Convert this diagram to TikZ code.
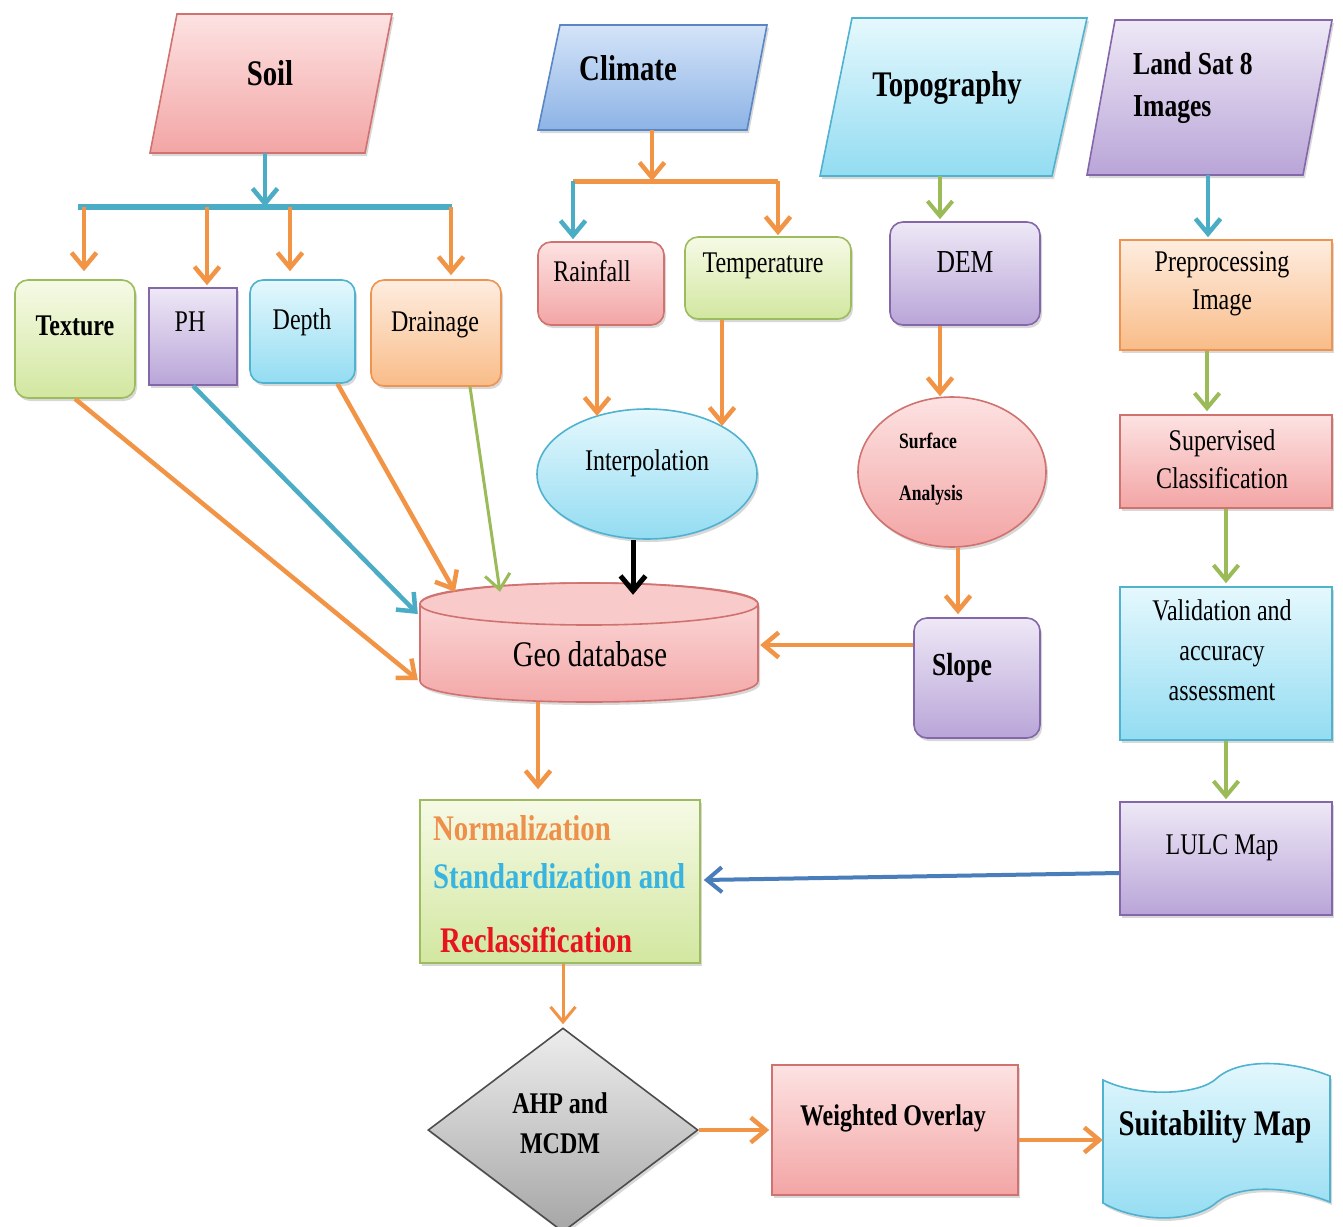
\documentclass[tikz,border=0pt]{standalone}
\usepackage{fontspec}
\setmainfont{Liberation Serif}[FakeStretch=0.8]
\usetikzlibrary{arrows.meta,shapes.geometric,shadows,calc}
\definecolor{pinkT}{HTML}{FDE2E2}\definecolor{pinkB}{HTML}{F3A5A5}\definecolor{pinkD}{HTML}{D0726F}
\definecolor{bluT}{HTML}{D4E4F8}\definecolor{bluB}{HTML}{8DB3E6}\definecolor{bluD}{HTML}{5A86C3}
\definecolor{cyT}{HTML}{E5F8FD}\definecolor{cyB}{HTML}{93DCF2}\definecolor{cyD}{HTML}{4FB2CF}
\definecolor{puT}{HTML}{EEE8F6}\definecolor{puB}{HTML}{B9A5D8}\definecolor{puD}{HTML}{8467A8}
\definecolor{grT}{HTML}{F6FAE6}\definecolor{grB}{HTML}{D2E7A0}\definecolor{grD}{HTML}{9DBC5E}
\definecolor{orT}{HTML}{FEEDE0}\definecolor{orB}{HTML}{F9BC88}\definecolor{orD}{HTML}{EE9350}
\definecolor{gyT}{HTML}{EDEDED}\definecolor{gyB}{HTML}{A6A6A6}\definecolor{gyD}{HTML}{4D4D4D}
\definecolor{orA}{HTML}{F29446}\definecolor{blA}{HTML}{4BACC6}\definecolor{grA}{HTML}{9BBB59}
\definecolor{dkA}{HTML}{4A7EBB}
\definecolor{nO}{HTML}{EE8F4A}\definecolor{nC}{HTML}{38B4E0}\definecolor{nR}{HTML}{E8141E}
\begin{document}
\begin{tikzpicture}[x=1pt,y=-1pt,
  shp/.style={draw, line width=1.6pt, inner sep=0pt, drop shadow={opacity=0.3, shadow xshift=2pt, shadow yshift=-3pt}},
  rbox/.style={shp, rectangle, rounded corners=13pt},
  sbox/.style={shp, rectangle},
  pinkf/.style={top color=pinkT, bottom color=pinkB, draw=pinkD},
  bluef/.style={top color=bluT, bottom color=bluB, draw=bluD},
  cyanf/.style={top color=cyT, bottom color=cyB, draw=cyD},
  purplef/.style={top color=puT, bottom color=puB, draw=puD},
  greenf/.style={top color=grT, bottom color=grB, draw=grD},
  orangef/.style={top color=orT, bottom color=orB, draw=orD},
  grayf/.style={top color=gyT, bottom color=gyB, draw=gyD},
  txt/.style={inner sep=0pt, align=center, text=black},
  f30/.style={txt, font=\fontsize{30}{38}\selectfont},
  f32/.style={txt, font=\fontsize{32}{38}\selectfont},
  f36/.style={txt, font=\fontsize{36}{42}\selectfont},
  b22/.style={txt, font=\fontsize{22}{52}\selectfont\bfseries},
  b30/.style={txt, font=\fontsize{30}{40}\selectfont\bfseries},
  b32/.style={txt, font=\fontsize{32}{42}\selectfont\bfseries},
  b36/.style={txt, font=\fontsize{36}{42}\selectfont\bfseries},
  tipv/.style={-{Straight Barb[length=15pt,width=25pt]}},
  oarr/.style={draw=orA, line width=4.5pt, tipv},
  barr/.style={draw=blA, line width=4.5pt, tipv},
  garr/.style={draw=grA, line width=4pt, tipv},
  karr/.style={draw=black, line width=5pt, tipv},
  darr/.style={draw=dkA, line width=4pt, tipv},
]
\useasboundingbox[fill=white] (0,0) rectangle (1343,1226);

% ---- parallelograms (inputs)
\path[shp, pinkf] (177,14) -- (392,14) -- (365,153) -- (150,153) -- cycle;
\path[shp, bluef] (560,25) -- (767,25) -- (747,130) -- (538,130) -- cycle;
\path[shp, cyanf] (852,18) -- (1087,18) -- (1052,176) -- (820,176) -- cycle;
\path[shp, purplef] (1115,20) -- (1332,20) -- (1303,175) -- (1087,175) -- cycle;
\node[b36] (soilt) at (270,73) {Soil};
\node[b36] (climt) at (628,68) {Climate};
\node[b36] (topot) at (947,88) {Topography};
\node[b32, align=left, anchor=west] (lst) at (1133,88) {Land Sat 8\\Images};
\coordinate (soilout) at (265,153);
\coordinate (climout) at (652,130);
\coordinate (topout) at (940,176);
\coordinate (lsout) at (1208,175);

% ---- soil attributes
\node[rbox, greenf, minimum width=120, minimum height=118] (tex) at (75,339) {};
\node[sbox, purplef, minimum width=88, minimum height=97] (ph) at (193,336.5) {};
\node[rbox, cyanf, minimum width=105, minimum height=103] (dep) at (302.5,331.5) {};
\node[rbox, orangef, minimum width=130, minimum height=106] (dra) at (436,333) {};
\node[b30] (text) at (75,326) {Texture};
\node[f30] (pht) at (190,322) {PH};
\node[f30] (dept) at (302,322) {Depth};
\node[f30] (drat) at (435,325) {Drainage};

% ---- climate
\node[rbox, pinkf, minimum width=126, minimum height=83] (rain) at (601,283.5) {};
\node[rbox, greenf, minimum width=166, minimum height=82] (temp) at (768,278) {};
\node[f30] (raint) at (592,271) {Rainfall};
\node[f30] (tempt) at (763,266) {Temperature};
\node[ellipse, shp, cyanf, minimum width=220, minimum height=130] (interp) at (647,474) {};
\node[f30] (interpt) at (647,463) {Interpolation};

% ---- geo database cylinder
\path[shp, pinkf] (420,604) -- (420,681) .. controls (420,709) and (758,709) .. (758,681) -- (758,604) .. controls (758,576) and (420,576) .. (420,604) -- cycle;
\path[draw=pinkD, line width=1.6pt, fill=pinkT!60!pinkB] (589,604) ellipse [x radius=169, y radius=21];
\node[inner sep=0pt, minimum width=338, minimum height=119] (geo) at (589,642.5) {};
\node[f36] (geot) at (590,654) {Geo database};

% ---- topography
\node[rbox, purplef, minimum width=150, minimum height=103] (dem) at (965,273.5) {};
\node[f32] (demt) at (965,262) {DEM};
\node[ellipse, shp, pinkf, minimum width=188, minimum height=150] (surf) at (952,472) {};
\node[b22, align=left, anchor=west] (surft) at (899,469) {Surface\\Analysis};
\node[rbox, purplef, minimum width=126, minimum height=120] (slope) at (977,678) {};
\node[b32] (slopet) at (962,668) {Slope};

% ---- landsat chain
\node[sbox, orangef, minimum width=212, minimum height=110] (pre) at (1226,295) {};
\node[f30] (pret) at (1222,284) {Preprocessing\\Image};
\node[sbox, pinkf, minimum width=212, minimum height=93] (sup) at (1226,461.5) {};
\node[f30] (supt) at (1222,459) {Supervised\\Classification};
\node[sbox, cyanf, minimum width=212, minimum height=153] (val) at (1226,663.5) {};
\node[f30, font=\fontsize{30}{40}\selectfont] (valt) at (1222,650) {Validation and\\accuracy\\assessment};
\node[sbox, purplef, minimum width=212, minimum height=113] (lulc) at (1226,858.5) {};
\node[f30] (lulct) at (1222,848) {LULC Map};

% ---- normalization
\node[sbox, greenf, minimum width=280, minimum height=163] (norm) at (560,881.5) {};
\node[b36, text=nO, anchor=west] (n1) at (433,828) {Normalization};
\node[b36, text=nC, anchor=west] (n2) at (433,876) {Standardization and};
\node[b36, text=nR, anchor=west] (n3) at (440,940) {Reclassification};

% ---- bottom row
\node[diamond, shp, grayf, minimum width=270, minimum height=204] (ahp) at (563,1130) {};
\node[b30] (ahpt) at (560,1123) {AHP and\\MCDM};
\node[sbox, pinkf, minimum width=246, minimum height=130] (wo) at (895,1130) {};
\node[b30] (wot) at (893,1118) {Weighted Overlay};
\path[shp, cyanf] (1103,1080) .. controls (1140,1098) and (1200,1095) .. (1217,1078) .. controls (1240,1058) and (1290,1060) .. (1330,1076) -- (1330,1202) .. controls (1290,1186) and (1240,1184) .. (1217,1202) .. controls (1195,1222) and (1140,1224) .. (1103,1203) -- cycle;
\node[inner sep=0pt, minimum width=227, minimum height=116] (suitb) at (1216.5,1140) {};
\node[b36] (suitt) at (1215,1127) {Suitability Map};

% ---- connectors: soil
\coordinate (sbarC) at (265,207);
\coordinate (sbarL) at (78,207);
\coordinate (sbarR) at (452,207);
\coordinate (b1) at (84,207);
\coordinate (b2) at (207,207);
\coordinate (b3) at (290,207);
\coordinate (b4) at (451,207);
\draw[draw=blA, line width=6pt] (sbarL) -- (sbarR);
\draw[barr] (soilout) -- (sbarC);
\draw[oarr] (b1) -- ($(b1 |- tex.north)+(0,-8)$);
\draw[oarr] (b2) -- ($(b2 |- ph.north)+(0,-2)$);
\draw[oarr] (b3) -- ($(b3 |- dep.north)+(0,-8)$);
\draw[oarr] (b4) -- ($(b4 |- dra.north)+(0,-4)$);

% ---- connectors: climate
\coordinate (cbarC) at (652,181);
\coordinate (cbarL) at (573,181);
\coordinate (cbarR) at (778,181);
\draw[draw=orA, line width=5pt] (cbarL) -- (cbarR);
\draw[oarr] (climout) -- (cbarC);
\draw[barr] (cbarL) -- ($(cbarL |- rain.north)+(0,-2)$);
\draw[oarr] (cbarR) -- ($(cbarR |- temp.north)+(0,-1)$);
\draw[oarr] ($(rain.south)+(-4,0)$) -- ($(interp.center)+(-50,-58)$);
\draw[oarr] ($(temp.south)+(-46,0)$) -- ($(interp.center)+(75,-48)$);
\draw[karr] ($(interp.south)+(-14,0)$) -- ($(geo.north)+(44,12)$);

% ---- connectors: soil attributes to geo database
\draw[oarr] (tex.south) -- ($(geo.west)+(-2,37.5)$);
\draw[barr] (ph.south) -- ($(geo.west)+(-2,-28.5)$);
\draw[oarr] ($(dep.south)+(35,0)$) -- ($(geo.north)+(-134,9)$);
\draw[garr, line width=3pt] ($(dra.south)+(34,0)$) -- ($(geo.north)+(-89,9)$);

% ---- connectors: topography
\draw[garr] (topout) -- ($(topout |- dem.north)+(0,-2)$);
\draw[oarr] ($(dem.south)+(-25,0)$) -- ($(surf.north)+(-12,0)$);
\draw[oarr] ($(surf.south)+(6,0)$) -- ($(slope.north)+(-19,-3)$);
\draw[oarr] ($(slope.west)+(0,-33)$) -- ($(geo.east)+(2,2.5)$);

% ---- connectors: landsat
\draw[barr] (lsout) -- ($(lsout |- pre.north)+(0,-2)$);
\draw[garr] ($(pre.south)+(-19,0)$) -- ($(sup.north)+(-19,-3)$);
\draw[garr] (sup.south) -- ($(val.north)+(0,-3)$);
\draw[garr] (val.south) -- ($(lulc.north)+(0,-2)$);
\draw[darr] ($(lulc.west)+(0,14.5)$) -- ($(norm.east)+(3,-1.5)$);

% ---- connectors: main flow
\draw[oarr] ($(geo.south)+(-51,0)$) -- ($(norm.north)+(-22,-10)$);
\draw[oarr, line width=3pt] ($(norm.south)+(3,0)$) -- ($(ahp.north)+(0,-3)$);
\draw[oarr] (ahp.east) -- ($(wo.west)+(-2,0)$);
\draw[oarr] ($(wo.east)+(0,10)$) -- (suitb.west);
\end{tikzpicture}
\end{document}
